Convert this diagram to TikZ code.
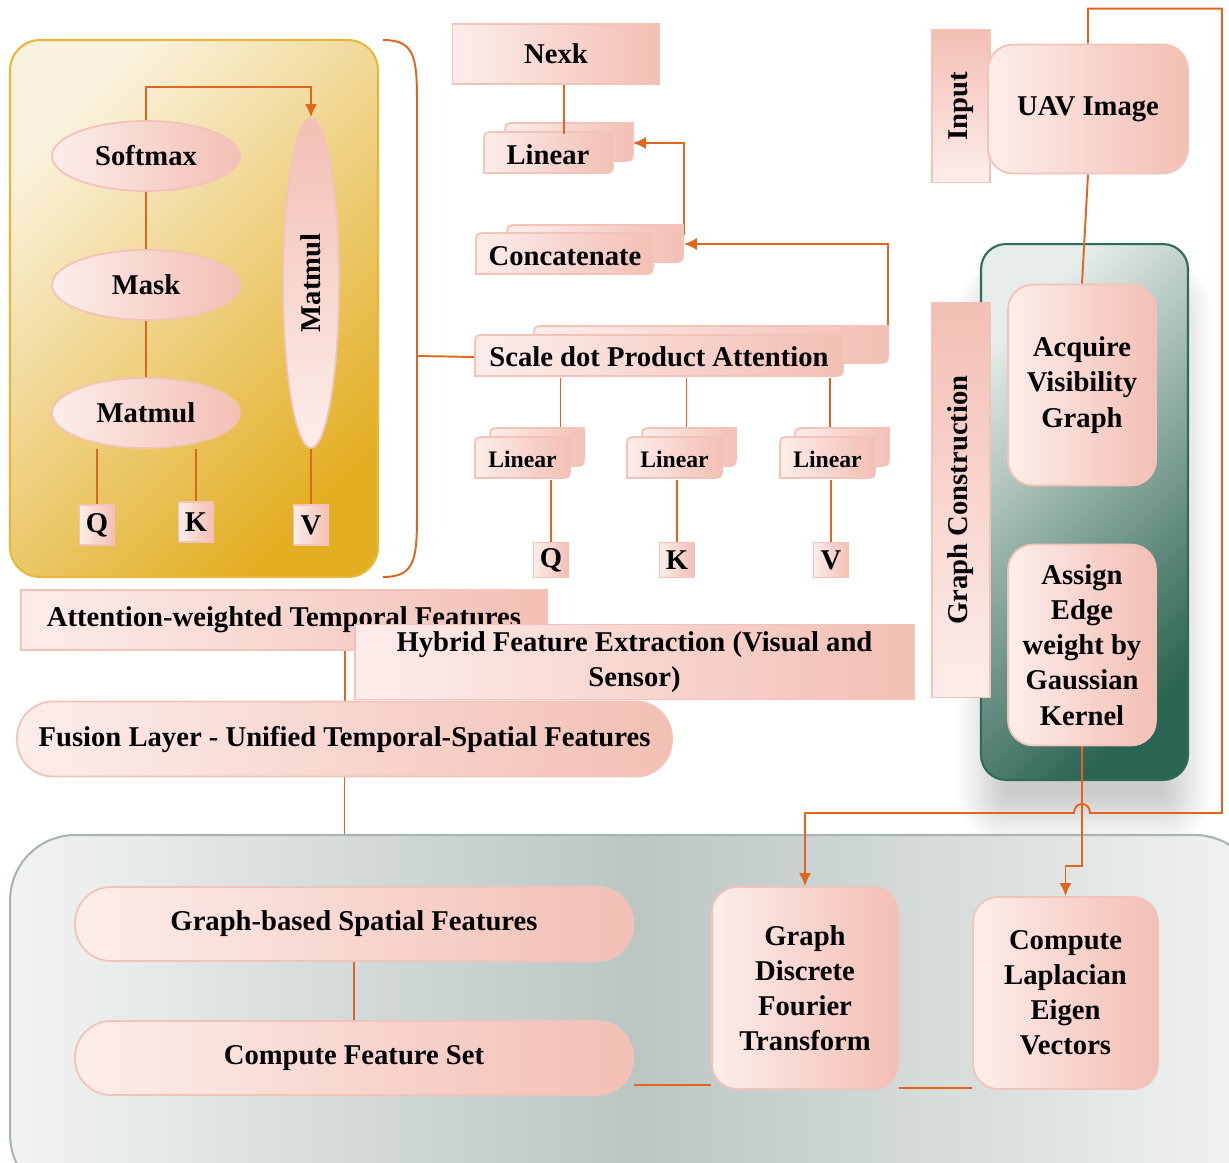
\documentclass[tikz,border=0pt]{standalone}
\usepackage{fontspec}
\setmainfont{Liberation Serif}
\usetikzlibrary{arrows.meta,positioning,calc,shapes.geometric,backgrounds,shadows.blur}
\definecolor{PinkA}{HTML}{FCEDEA}
\definecolor{PinkB}{HTML}{F3BFB4}
\definecolor{PinkLine}{HTML}{F2C3B8}
\definecolor{Conn}{HTML}{E2651F}
\definecolor{GoldA}{HTML}{FAF2DE}
\definecolor{GoldB}{HTML}{E2AE22}
\definecolor{GoldLine}{HTML}{E8B73A}
\definecolor{GreenA}{HTML}{E6ECE9}
\definecolor{GreenB}{HTML}{2C6453}
\definecolor{GreenLine}{HTML}{2F6B59}
\definecolor{GreyIn}{HTML}{BBC6C2}
\definecolor{GreyOut}{HTML}{F1F3F2}
\definecolor{GreyLine}{HTML}{A9B5B1}
\tikzset{
  pinkbox/.style={draw=PinkLine,line width=1pt,left color=PinkA,right color=PinkB,align=center,text=black,inner sep=2pt},
  roundbox/.style={pinkbox,rounded corners=0.5cm},
  pillbox/.style={pinkbox,rounded corners=0.72cm},
  ovalbox/.style={pinkbox,ellipse,minimum width=3.76cm,minimum height=1.4cm},
  letterbox/.style={pinkbox,minimum width=0.7cm,minimum height=0.8cm},
  sidetab/.style={draw=PinkLine,line width=1pt,top color=PinkB,bottom color=PinkA,minimum width=1.16cm,inner sep=2pt},
  tabfill/.style={draw=PinkLine,line width=1pt,left color=PinkA,right color=PinkB},
  tabtext/.style={align=center,text=black,inner sep=0pt,minimum height=0.82cm},
  smalltext/.style={font=\fontsize{13.5}{16}\selectfont\bfseries},
  conn/.style={draw=Conn,line width=1.1pt},
  arrow/.style={conn,-{Latex[length=2.6mm,width=2.4mm]}}
}
\newcommand{\tabshape}[4]{%
  \path[tabfill] (#1,#4) -- (#1,#2+12) .. controls (#1,#2) .. (#1+12,#2) -- (#3,#2)
    -- (#3,#4-12) .. controls (#3,#4) .. (#3-12,#4) -- cycle;}
\begin{document}
\begin{tikzpicture}[x=0.02cm,y=-0.02cm,font=\fontsize{16.3}{20}\selectfont\bfseries]
  \useasboundingbox (0,0) rectangle (1229,1162);

  \node[ovalbox] (soft) at (146,156) {Softmax};
  \node[ovalbox] (mask) at (146,285) {Mask};
  \node[ovalbox] (mmul) at (146,413) {Matmul};
  \node[pinkbox,ellipse,top color=PinkB,bottom color=PinkA,minimum width=1.12cm,minimum height=6.6cm] (mmulv) at (311,283) {\rotatebox{90}{Matmul}};
  \node[letterbox] (q1) at (97,525) {Q};
  \node[letterbox] (k1) at (196,522) {K};
  \node[letterbox] (v1) at (311,525) {V};

  \node[pinkbox,minimum width=4.14cm,minimum height=1.2cm] (nexk) at (556,54) {Nexk};
  \tabshape{505}{123}{633}{161}\tabshape{484}{132}{613}{173}
  \node[tabtext,minimum width=2.58cm] (lin) at (548,155) {Linear};
  \tabshape{507}{225}{683}{262}\tabshape{476}{233}{653}{274}
  \node[tabtext,minimum width=3.54cm] (cat) at (565,256) {Concatenate};
  \tabshape{534}{326}{888}{363}\tabshape{475}{335}{843}{376}
  \node[tabtext,minimum width=7.36cm] (sdpa) at (659,357) {Scale dot Product Attention};
  \foreach \nm/\x in {lq/475,lk/627,lv/780}{
    \tabshape{\x+15}{428}{\x+109}{466}\tabshape{\x}{437}{\x+95}{478}
    \node[tabtext,smalltext,minimum width=1.9cm] (\nm) at (\x+47.5,459) {Linear};
  }
  \node[letterbox,minimum height=0.7cm] (q2) at (551,560) {Q};
  \node[letterbox,minimum height=0.7cm] (k2) at (677,560) {K};
  \node[letterbox,minimum height=0.7cm] (v2) at (831,560) {V};

  \node[sidetab,minimum height=3.06cm] (inp) at (961,106) {\rotatebox{90}{Input}};
  \node[roundbox,minimum width=4cm,minimum height=2.58cm] (uav) at (1088,109) {UAV Image};
  \node[sidetab,minimum height=7.9cm] (gcon) at (961,500) {\rotatebox{90}{Graph Construction}};
  \node[roundbox,minimum width=2.96cm,minimum height=4.02cm] (acq) at (1082,385) {Acquire\\Visibility\\Graph};
  \node[roundbox,minimum width=2.96cm,minimum height=4.02cm] (asg) at (1082,645) {Assign\\Edge\\weight by\\Gaussian\\Kernel};

  \node[pinkbox,minimum width=10.52cm,minimum height=1.2cm] (attn) at (284,620) {Attention-weighted Temporal Features};
  \node[pinkbox,minimum width=11.18cm,minimum height=1.5cm] (hyb) at (634.5,662) {Hybrid Feature Extraction (Visual and\\Sensor)};
  \node[pillbox,minimum width=13.1cm,minimum height=1.5cm] (fus) at (344.5,739) {Fusion Layer - Unified Temporal-Spatial Features};

  \node[pillbox,minimum width=11.16cm,minimum height=1.48cm] (gsf) at (354,924) {Graph-based Spatial Features};
  \node[pillbox,minimum width=11.16cm,minimum height=1.48cm] (cfs) at (354,1058) {Compute Feature Set};
  \node[roundbox,minimum width=3.72cm,minimum height=4.04cm] (dft) at (805,988) {Graph\\Discrete\\Fourier\\Transform};
  \node[roundbox,minimum width=3.7cm,minimum height=3.84cm] (lap) at (1065.5,993) {Compute\\Laplacian\\Eigen\\Vectors};

  \draw[conn] ([xshift=0.16cm]nexk.south) -- ([xshift=0.16cm]nexk.south |- lin.north);

  \begin{scope}[on background layer]
    \node[draw=GoldLine,line width=1.2pt,rounded corners=0.6cm,left color=GoldA,right color=GoldB,shading angle=45,minimum width=7.36cm,minimum height=10.74cm] (gold) at (194,308.5) {};
    \node[draw=GreenLine,line width=1.2pt,rounded corners=0.5cm,left color=GreenA,right color=GreenB,shading angle=45,minimum width=4.14cm,minimum height=10.72cm,
      blur shadow={shadow xshift=0cm,shadow yshift=-0.8cm,shadow blur radius=0.5cm,shadow blur steps=20,shadow opacity=20}] (green) at (1084.5,512) {};
    \node[draw=GreyLine,line width=1.2pt,rounded corners=1.3cm,left color=GreyOut,right color=GreyOut,middle color=GreyIn,minimum width=25cm,minimum height=7.3cm] (grey) at (635,1017.5) {};

    \draw[arrow] (soft.north) -- ++(0,-33) -| (mmulv.north);
    \draw[conn] (soft) -- (mask) (mask) -- (mmul);
    \draw[conn] (q1.north) -- (q1.north |- mmul.south);
    \draw[conn] (k1.north) -- (k1.north |- mmul.south);
    \draw[conn] (v1) -- (mmulv);

    \coordinate (brace) at (417,356);
    \draw[conn] (383,40) .. controls (417,40) and (417,60) .. (417,110) -- (417,507) .. controls (417,557) and (417,577) .. (383,577);
    \draw[conn] (brace) -- (sdpa.west);

    \draw[arrow] ([xshift=0.6cm]cat.north east) |- ([xshift=0.4cm,yshift=0.24cm]lin.east);
    \draw[arrow] ([xshift=0.9cm]sdpa.north east) |- ([xshift=0.6cm,yshift=0.24cm]cat.east);
    \foreach \nm/\dx in {lq/0.76,lk/0.24,lv/0.05}
      \draw[conn] ([xshift=\dx cm]\nm.north) -- ([xshift=\dx cm]\nm.north |- sdpa.south);
    \draw[conn] (q2.north) -- (q2.north |- lq.south);
    \draw[conn] (k2.north) -- (k2.north |- lk.south);
    \draw[conn] (v2.north) -- (v2.north |- lv.south);

    \coordinate (loopc) at (1222,813);
    \coordinate (hopR) at (1090,813);
    \coordinate (hopL) at (1074,813);
    \draw[conn] (uav.south) -- (acq.north);
    \draw[arrow] (uav.north) -- ++(0,-35) -| (loopc) -- (hopR) .. controls (1090,801) and (1074,801) .. (hopL) -| (dft.north);
    \draw[arrow] (asg.south) |- ([yshift=0.6cm]lap.north) -- (lap.north);

    \draw[conn] ([xshift=1.22cm]attn.south) -- ([xshift=1.22cm]attn.south |- fus.north);
    \draw[conn] (fus.south) -- (fus.south |- grey.north);
    \draw[conn] (gsf) -- (cfs);
    \draw[conn] ([yshift=0.22cm]cfs.south east) -- ([yshift=0.22cm]cfs.south east -| dft.west);
    \draw[conn] ([yshift=0.04cm]dft.south east) -- ([yshift=0.04cm]dft.south east -| lap.west);
  \end{scope}
\end{tikzpicture}
\end{document}
